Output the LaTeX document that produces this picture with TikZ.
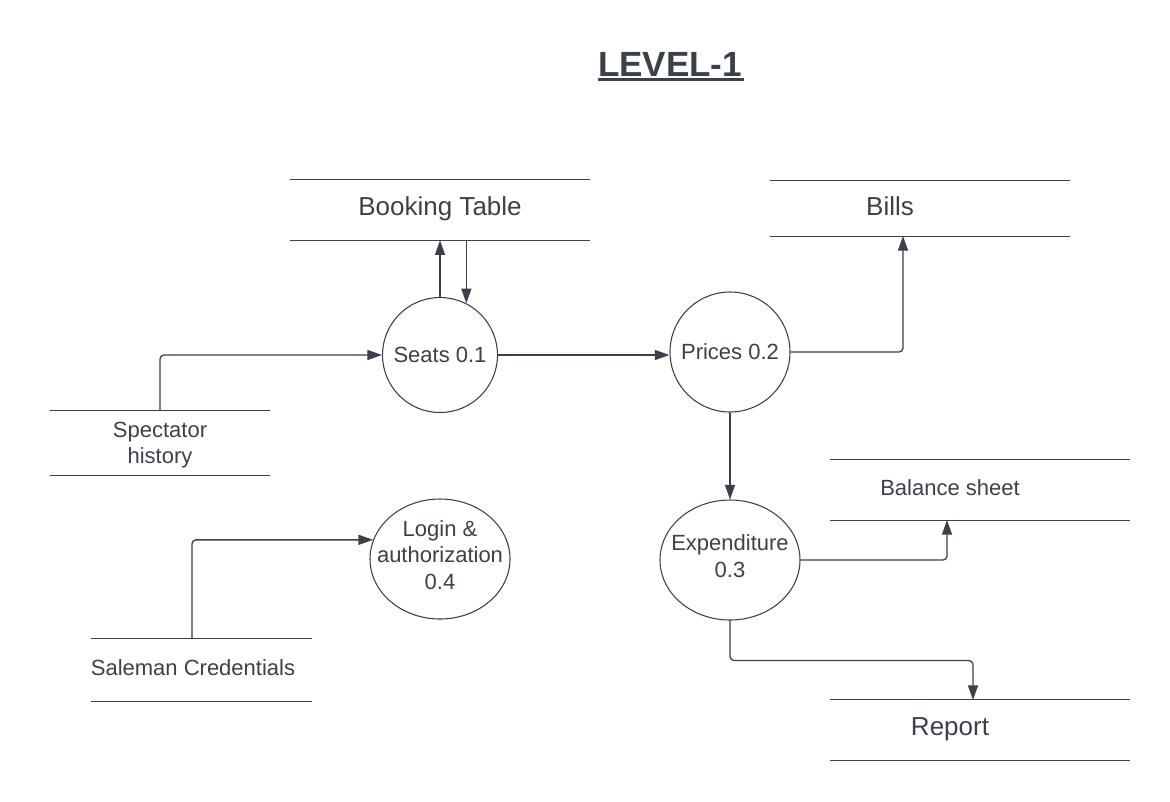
\documentclass[tikz,border=0pt]{standalone}
\usepackage{fontspec}
\setmainfont{Liberation Sans}
\usetikzlibrary{arrows.meta,shapes.geometric,positioning}
\definecolor{ink}{HTML}{3A414A}

\tikzset{
  flow/.style={draw=ink, line width=1pt, rounded corners=3pt, -{Triangle[length=11pt,width=7.5pt]}},
  storeline/.style={draw=ink, line width=1pt},
  store/.style={inner sep=0pt, minimum height=45pt},
  proc/.style={draw=ink, line width=0.8pt, circle, inner sep=0pt},
  procel/.style={draw=ink, line width=0.8pt, ellipse, inner sep=0pt, minimum width=105pt, minimum height=90pt},
  txt/.style={text=ink, inner sep=0pt, align=center, font=\fontsize{16.5pt}{19.8pt}\selectfont},
  bigtxt/.style={text=ink, inner sep=0pt, align=center, font=\fontsize{19.5pt}{23.4pt}\selectfont},
  titletxt/.style={text=ink, inner sep=0pt, font=\bfseries\fontsize{26.25pt}{31.5pt}\selectfont}
}

\begin{document}
\begin{tikzpicture}[x=0.75pt,y=0.75pt,yscale=-1]
\useasboundingbox (0,0) rectangle (1170,801);

% Title
\node[titletxt, anchor=base] (title) at (670,76) {LEVEL-1};
\path (title.base west) ++(0,3.5) coordinate (ul a);
\path (title.base east) ++(2,3.5) coordinate (ul b);
\draw[ink, line width=2.25pt] (ul a) -- (ul b);

% Data stores
\node[store, minimum width=225pt] (book) at (440,210) {};
\node[store, minimum width=225pt, minimum height=41.25pt] (bills) at (920,208.5) {};
\node[store, minimum width=225pt] (bal) at (980,490) {};
\node[store, minimum width=225pt] (rep) at (980,730) {};
\node[store, minimum width=165pt, minimum height=48pt] (spec) at (160,443) {};
\node[store, minimum width=165pt, minimum height=46.5pt] (sal) at (201.5,670) {};
\foreach \s in {book,bills,bal,rep,spec,sal}
  \draw[storeline] (\s.north west) -- (\s.north east) (\s.south west) -- (\s.south east);

% Store labels
\node[bigtxt] (bookt) at (440,209) {Booking Table};
\node[bigtxt] (billst) at (890,206) {Bills};
\node[txt] (balt) at (950,488) {Balance sheet};
\node[bigtxt] (rept) at (950,729) {Report};
\node[txt] (spect) at (160,445) {Spectator\\history};
\node[txt] (salt) at (193,668) {Saleman Credentials};

% Processes
\node[proc, minimum size=86.25pt, label={[txt]center:Seats 0.1}] (seats) at (440,355) {};
\node[proc, minimum size=90pt, label={[txt]center:Prices 0.2}] (prices) at (730,352) {};
\node[procel, label={[txt, yshift=3pt]center:{Expenditure\\0.3}}] (exp) at (730,560) {};
\node[procel, label={[txt, yshift=3pt]center:{Login \&\\authorization\\0.4}}] (login) at (440,559) {};

% Flows
\coordinate (bills in) at (903,236);
\coordinate (bal in) at (947,520);
\coordinate (rep in) at (973,700);
\coordinate (sal out) at (192,639);
\draw[flow] (spec.north) |- (seats.west);
\draw[flow] (seats.north) -- (book.south);
\draw[flow] (book.south -| seats.63) -- (seats.63);
\draw[flow] (seats.east) -- (seats.east -| prices.west);
\draw[flow] (prices.east) -| (bills in);
\draw[flow] (prices.south) -- (exp.north);
\draw[flow] (exp.east) -| (bal in);
\draw[flow] (exp.south) -- ++(0,40) -| (rep in);
\draw[flow] (sal out) |- (login.164);

\end{tikzpicture}
\end{document}
